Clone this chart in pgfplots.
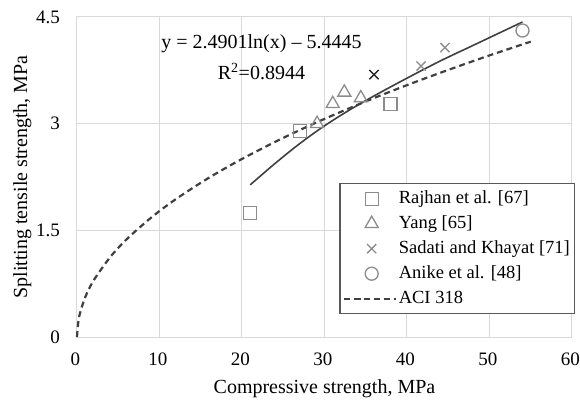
\documentclass[border=0pt]{standalone}
\usepackage{fontspec}
\setmainfont{Liberation Serif}
\usepackage{pgfplots}
\pgfplotsset{compat=1.18}
\definecolor{mk}{HTML}{8C8C8C}
\definecolor{ln}{HTML}{404040}
\definecolor{gr}{HTML}{D9D9D9}
\definecolor{lb}{HTML}{595959}
\begin{document}
\begin{tikzpicture}
\begin{axis}[
  scale only axis, width=495bp, height=320bp,
  xmin=0, xmax=60, ymin=0, ymax=4.5,
  xtick={0,10,20,30,40,50,60},
  ytick={0,1.5,3,4.5},
  yticklabels={0,1.5,3,4.5},
  xticklabels={0,10,20,30,40,50,60},
  grid=major, grid style={gr, line width=1bp},
  axis line style={gr, line width=1bp},
  major tick length=0pt,
  tick label style={font=\fontsize{19bp}{23bp}\selectfont, text=black},
  xticklabel style={anchor=north, inner sep=0pt, yshift=-16bp, xshift=-1.5bp},
  yticklabel style={anchor=east, inner sep=0pt, xshift=-17bp},
  xlabel={Compressive strength, MPa},
  ylabel={Splitting tensile strength, MPa},
  every axis x label/.style={at={(axis description cs:0.5,0)}, anchor=base, inner sep=0pt, yshift=-56bp, font=\fontsize{20bp}{24bp}\selectfont},
  every axis y label/.style={at={(axis description cs:-0.101,0.5)}, rotate=90, anchor=base, inner sep=0pt, font=\fontsize{20bp}{24bp}\selectfont},
  legend cell align=left,
  legend image code/.code={\draw[mark repeat=2,mark phase=2,#1] plot coordinates {(0bp,0bp) (28bp,0bp) (52bp,0bp)};},
  legend style={at={(axis description cs:1.006,0.481)}, anchor=north east,
    draw=lb, line width=1.2bp, fill=white, inner xsep=2.5bp, inner ysep=2.5bp,
    font=\fontsize{18.5bp}{22bp}\selectfont,
    nodes={inner xsep=2bp, inner ysep=4bp, text height=13bp, text depth=4bp},
    column sep=0bp, row sep=0bp},
  clip=false,
]
% Rajhan et al. [67]
\addplot[only marks, mark=square, mark size=6.5bp, mk, line width=1.3bp]
  coordinates {(21.0,1.74) (27.0,2.90) (38.0,3.28)};
\addlegendentry{Rajhan et al. [67]}
% Yang [65]
\addplot[only marks, mark=triangle, mark size=7.5bp, mk, line width=1.3bp]
  coordinates {(29.1,3.00) (31.0,3.28) (32.4,3.44) (34.4,3.36)};
\addlegendentry{Yang [65]}
% Sadati and Khayat [71]
\addplot[only marks, mark=x, mark size=6.5bp, mk, line width=1.3bp]
  coordinates {(41.7,3.81) (44.6,4.07)};
\addlegendentry{Sadati and Khayat [71]}
% Anike et al. [48]
\addplot[only marks, mark=o, mark size=6.5bp, mk, line width=1.3bp]
  coordinates {(54.0,4.31)};
\addlegendentry{Anike et al. [48]}
% ACI 318
\addplot[ln, line width=2.2bp, dash pattern=on 6bp off 4bp, smooth]
  coordinates {(0,0) (0.25,0.28) (1,0.56) (2,0.792) (4,1.12) (6,1.372) (9,1.68) (12,1.940) (16,2.24) (20,2.504) (25,2.80) (30,3.067) (36,3.36) (42,3.629) (49,3.92) (55,4.153)};
\addlegendentry{ACI 318}
% dark cross
\addplot[forget plot, only marks, mark=x, mark size=6.5bp, black!85, line width=1.5bp]
  coordinates {(36.0,3.69)};
% logarithmic trend line
\addplot[forget plot, ln, line width=1.6bp, smooth]
  coordinates {(21,2.14) (24,2.44) (27,2.72) (30,2.97) (33,3.19) (36,3.39) (40,3.64) (44,3.88) (48,4.10) (54,4.43)};
\node[font=\fontsize{20bp}{24bp}\selectfont] at (axis cs:22.36,4.12) {y = 2.4901ln(x) – 5.4445};
\node[font=\fontsize{20bp}{24bp}\selectfont] at (axis cs:22.36,3.73) {R\textsuperscript{2}=0.8944};
\end{axis}
\pgfresetboundingbox
\path (-77bp,-66bp) rectangle (503bp,337bp);
\end{tikzpicture}
\end{document}
